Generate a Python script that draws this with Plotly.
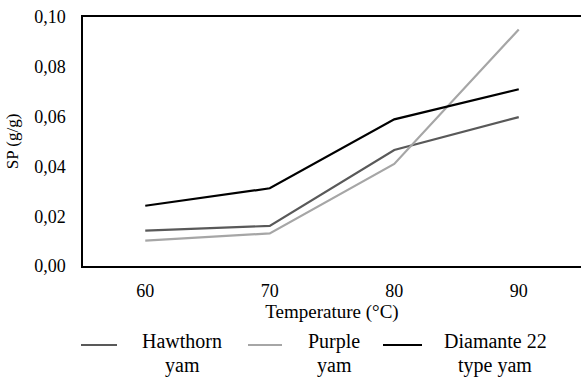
import plotly.graph_objects as go

temperatures = ["60", "70", "80", "90"]
hawthorn_yam = [0.0142, 0.0161, 0.0466, 0.0598]
purple_yam = [0.0102, 0.0131, 0.0410, 0.0950]
diamante_yam = [0.0242, 0.0312, 0.0589, 0.0710]
series_names = ["Hawthorn yam", "Purple yam", "Diamante 22 type yam"]
legend_lines = [("Hawthorn", "yam"), ("Purple", "yam"), ("Diamante 22", "type yam")]
y_ticks = [0.0, 0.02, 0.04, 0.06, 0.08, 0.10]
y_tick_labels = ["0,00", "0,02", "0,04", "0,06", "0,08", "0,10"]

colors = ["#595959", "#a6a6a6", "#000000"]
FONT = "Liberation Serif"

# figure geometry (pixels)
W, H = 581, 378
ML, MR, MT, MB = 83, 0, 17, 112
PW, PH = W - ML - MR, H - MT - MB


def px_x(px):
    return (px - ML) / PW


def px_y(py):
    return (H - MB - py) / PH


fig = go.Figure()
for name, vals, color in zip(series_names, [hawthorn_yam, purple_yam, diamante_yam], colors):
    fig.add_trace(go.Scatter(x=temperatures, y=vals, mode="lines", name=name,
                             line=dict(color=color, width=2.2), showlegend=False))

# legend drawn as key lines + centred two-line labels (Excel style)
key_spans = [(81, 117), (248, 282), (383, 422)]
label_centres = [182, 334, 495]
key_y = 345
shapes, annotations = [], []
for (x0, x1), cx, (l1, l2), color in zip(key_spans, label_centres, legend_lines, colors):
    shapes.append(dict(type="line", xref="paper", yref="paper",
                       x0=px_x(x0), x1=px_x(x1), y0=px_y(key_y), y1=px_y(key_y),
                       line=dict(color=color, width=2.2)))
    for text, cy in ((l1, 341), (l2, 365)):
        annotations.append(dict(text=text, xref="paper", yref="paper",
                                x=px_x(cx), y=px_y(cy), xanchor="center", yanchor="middle",
                                showarrow=False,
                                font=dict(size=20, family=FONT, color="#000000")))

fig.update_layout(
    width=W, height=H,
    margin=dict(l=ML, r=MR, t=MT, b=MB),
    paper_bgcolor="white", plot_bgcolor="white",
    font=dict(family=FONT, color="#000000", size=18),
    showlegend=False,
    shapes=shapes, annotations=annotations,
)
fig.update_xaxes(type="category", range=[-0.5, 3.5], showgrid=False, automargin=False,
                 showline=True, linecolor="#000000", linewidth=1.5, mirror=True,
                 ticks="", ticklabelstandoff=8, ticklabeloverflow="allow",
                 tickfont=dict(size=18, family=FONT, color="#000000"),
                 title=dict(text="Temperature (°C)", standoff=2,
                            font=dict(size=19, family=FONT, color="#000000")))
fig.update_yaxes(range=[0, 0.10], tickvals=y_ticks, ticktext=y_tick_labels,
                 showgrid=False, showline=True, linecolor="#000000", linewidth=1.5,
                 ticks="", ticklabelstandoff=12, zeroline=False, automargin=False,
                 ticklabeloverflow="allow",
                 tickfont=dict(size=18, family=FONT, color="#000000"),
                 title=dict(text="SP (g/g)", standoff=11,
                            font=dict(size=17, family=FONT, color="#000000")))

# remove the default 8px page margin so the figure fills the window exactly
page_fix = "document.body.style.margin='0';document.body.style.overflow='hidden';"
fig.write_html("out.html", post_script=page_fix, config={"displayModeBar": False})
